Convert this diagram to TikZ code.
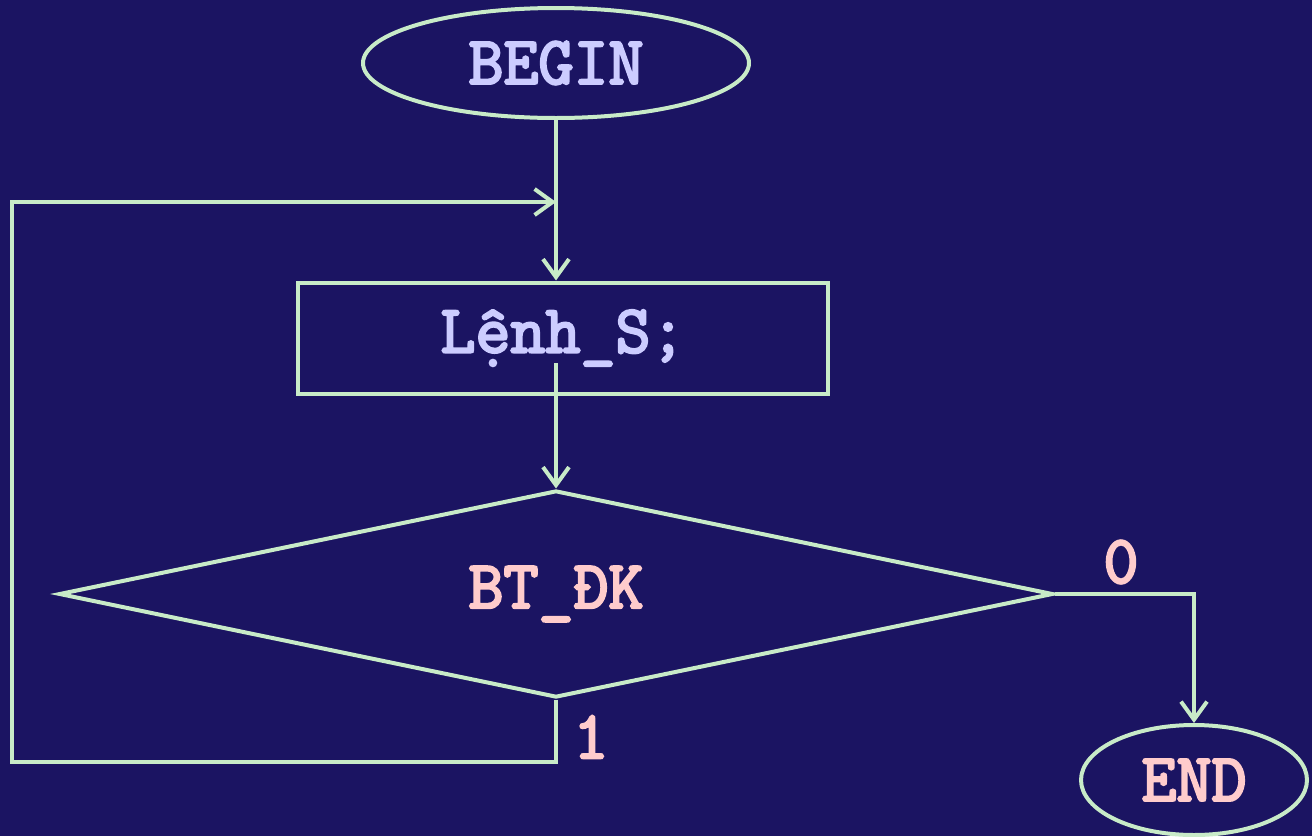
\documentclass[tikz,border=0pt]{standalone}
\usepackage{fontspec}
\newfontfamily\flowfont{Latin Modern Mono}[FakeBold=3.5]
\usetikzlibrary{shapes.geometric,arrows.meta}
\definecolor{bgnavy}{RGB}{27,20,98}
\definecolor{linegreen}{RGB}{200,235,200}
\definecolor{lavender}{RGB}{204,204,255}
\definecolor{pinktext}{RGB}{255,204,204}
\tikzset{
  x=1pt, y=-1pt,
  flow/.style={draw=linegreen, line width=4pt},
  conn/.style={flow, -{Straight Barb[length=18pt,width=26pt,line width=4pt]}},
  txt/.style={font=\fontsize{68}{70}\flowfont},
  terminal/.style={flow, ellipse, inner sep=0pt, txt},
  procbox/.style={flow, rectangle, inner sep=0pt, txt, text=lavender},
  decision/.style={flow, diamond, inner sep=0pt, aspect=4.8, txt, text=pinktext},
  lbl/.style={txt, text=pinktext, inner sep=0pt}
}
\begin{document}
\begin{tikzpicture}
  \fill[bgnavy] (0,0) rectangle (1312,836);
  \useasboundingbox (0,0) rectangle (1312,836);

  \node[terminal, text=lavender, minimum width=386pt, minimum height=110pt] (begin) at (556,63) {BEGIN};
  \node[procbox, minimum width=530pt, minimum height=111pt] (stmt) at (563,338) {Lệnh\_S;};
  \node[decision, minimum width=994pt, minimum height=207pt] (cond) at (556,594) {BT\_ĐK};
  \node[terminal, text=pinktext, minimum width=226pt, minimum height=110pt] (end) at (1194,780) {END};

  \node[lbl] (zero) at (1121,562) {0};
  \node[lbl] (one) at (591,737) {1};

  \coordinate (join) at (556,202);
  \coordinate (loopbr) at (556,762);
  \coordinate (loopbl) at (12,762);
  \coordinate (looptl) at (12,202);
  \coordinate (turn) at (1194,594);
  \coordinate (stmtout) at (556,363);

  \draw[flow] (begin.south) -- (join);
  \draw[conn] (join) -- (stmt.north -| join);
  \draw[conn] (stmtout) -- (cond.north);
  \draw[conn] (cond.east) -- (turn) -- (end.north);
  \draw[conn] (cond.south) -- (loopbr) -- (loopbl) -- (looptl) -- (join);
\end{tikzpicture}
\end{document}
